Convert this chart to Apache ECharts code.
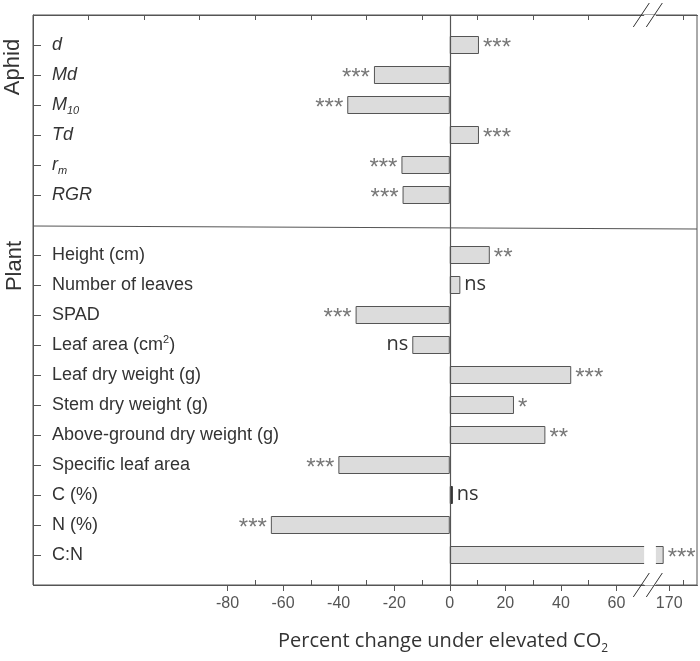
<!DOCTYPE html>
<html>
<head>
<meta charset="utf-8">
<script src="https://cdn.jsdelivr.net/npm/echarts@6/dist/echarts.min.js"></script>
<style>
  html, body { margin: 0; padding: 0; background: #fff; }
  #chart { width: 700px; height: 661px; }
</style>
</head>
<body>
<div id="chart"></div>
<script>
// rows from top to bottom; 'top', 'sep' and 'bottom' are empty slots
const rowKeys = ['top', 'd', 'Md', 'M10', 'Td', 'rm', 'RGR', 'sep',
  'Height (cm)', 'Number of leaves', 'SPAD', 'Leaf area (cm2)', 'Leaf dry weight (g)',
  'Stem dry weight (g)', 'Above-ground dry weight (g)', 'Specific leaf area',
  'C (%)', 'N (%)', 'C:N', 'bottom'];
const changeValues = ['-', 10.5, -27.3, -36.9, 10.5, -17.4, -17.0, '-',
  14.4, 3.8, -33.9, -13.5, 43.7, 23.1, 34.4, -40.1, 1.1, -64.4, 168, '-'];
const sigLabels = ['', '***', '***', '***', '***', '***', '***', '',
  '**', 'ns', '***', 'ns', '***', '*', '**', '***', 'ns', '***', '***', ''];
const groupNames = ['Aphid', 'Plant'];
const majorTicks = [-80, -60, -40, -20, 0, 20, 40, 60, 170];
const minorTicks = [-70, -50, -30, -10, 10, 30, 50, 175];
const topTicks = [-130, -110, -90, -70, -50, -30, -10, 10, 30, 50, 175];
const axisBreak = { start: 70, end: 165 };

const blankRows = ['top', 'sep', 'bottom'];
const rowText = {
  'd': '{i|d}',
  'Md': '{i|Md}',
  'M10': '{i|M}{isub|10}',
  'Td': '{i|Td}',
  'rm': '{i|r}{isub|m}',
  'RGR': '{i|RGR}',
  'Leaf area (cm2)': 'Leaf area (cm{sup|2})'
};

const chart = echarts.init(document.getElementById('chart'));

const breakCfg = {
  breaks: [{ start: axisBreak.start, end: axisBreak.end, gap: '1.66%' }],
  breakArea: {
    show: true,
    itemStyle: { color: '#fff', borderColor: '#fff', borderWidth: 0, opacity: 1 },
    zigzagAmplitude: 0,
    zigzagZ: 50,
    expandOnClick: false
  }
};

const baseX = {
  type: 'value',
  min: -150,
  max: 180,
  splitLine: { show: false },
  axisLine: { show: true, lineStyle: { color: '#555', width: 1 } }
};

const options = {
  animation: false,
  grid: {
    left: 33,
    right: 3,
    top: 15,
    bottom: 76,
    show: true,
    borderColor: '#555',
    borderWidth: 1
  },
  xAxis: [
    Object.assign({}, baseX, breakCfg, {
      position: 'bottom',
      axisTick: { show: true, inside: false, length: 6, customValues: majorTicks, lineStyle: { color: '#555' } },
      axisLabel: {
        customValues: majorTicks,
        margin: 11,
        color: '#555',
        fontFamily: 'Liberation Sans',
        fontSize: 16,
        formatter: v => String(v)
      }
    }),
    Object.assign({}, baseX, breakCfg, {
      position: 'bottom',
      axisLine: { show: false },
      axisTick: { show: true, inside: true, length: 5, customValues: minorTicks, lineStyle: { color: '#555' } },
      axisLabel: { show: false }
    }),
    Object.assign({}, baseX, breakCfg, {
      position: 'top',
      axisTick: { show: true, inside: true, length: 5, customValues: topTicks, lineStyle: { color: '#555' } },
      axisLabel: { show: false }
    })
  ],
  yAxis: {
    type: 'category',
    data: rowKeys,
    inverse: true,
    boundaryGap: false,
    axisLine: { show: true, onZero: false, lineStyle: { color: '#555' } },
    axisTick: {
      show: true,
      inside: true,
      length: 8,
      interval: (i, v) => blankRows.indexOf(v) < 0,
      lineStyle: { color: '#555' }
    },
    axisLabel: {
      inside: true,
      interval: 0,
      margin: 19,
      color: '#333',
      fontFamily: 'Liberation Sans',
      fontSize: 18,
      lineHeight: 22,
      formatter: v => blankRows.indexOf(v) >= 0 ? '' : (rowText[v] || v),
      rich: {
        i: { fontStyle: 'italic', fontSize: 18, lineHeight: 22, color: '#333', fontFamily: 'Liberation Sans' },
        isub: { fontStyle: 'italic', fontSize: 11, lineHeight: 11, verticalAlign: 'bottom', color: '#333', fontFamily: 'Liberation Sans' },
        sup: { fontSize: 11, lineHeight: 11, verticalAlign: 'top', color: '#333', fontFamily: 'Liberation Sans' }
      }
    }
  },
  series: [
    {
      type: 'bar',
      xAxisIndex: 0,
      barWidth: 18,
      itemStyle: { color: '#dcdcdc', borderColor: '#555', borderWidth: 1 },
      data: changeValues.map((v, i) => {
        if (v === '-') return '-';
        const sig = sigLabels[i];
        const item = {
          value: v,
          label: {
            position: v >= 0 ? 'right' : 'left',
            offset: sig === 'ns' ? [0, -1] : [0, 3]
          }
        };
        // a bar this thin shows only its outline
        if (Math.abs(v) < 2) item.itemStyle = { color: '#333', borderColor: '#333' };
        return item;
      }),
      label: {
        show: true,
        distance: 4,
        formatter: p => {
          const sig = sigLabels[p.dataIndex];
          return sig === 'ns' ? '{ns|ns}' : '{star|' + sig + '}';
        },
        rich: {
          star: { fontFamily: 'Liberation Sans', fontSize: 24, color: '#777' },
          ns: { fontFamily: 'Open Sans', fontSize: 20, color: '#333' }
        }
      },
      markLine: {
        silent: true,
        symbol: 'none',
        label: { show: false },
        lineStyle: { color: '#555', width: 1.2, type: 'solid' },
        data: [{ xAxis: 0 }]
      }
    }
  ],
  graphic: [
    {
      type: 'text',
      x: 13,
      y: 67,
      rotation: Math.PI / 2,
      style: {
        text: groupNames[0],
        textAlign: 'center',
        textVerticalAlign: 'middle',
        fontFamily: 'Liberation Sans',
        fontSize: 22,
        fill: '#333'
      }
    },
    {
      type: 'text',
      x: 15,
      y: 266,
      rotation: Math.PI / 2,
      style: {
        text: groupNames[1],
        textAlign: 'center',
        textVerticalAlign: 'middle',
        fontFamily: 'Liberation Sans',
        fontSize: 22,
        fill: '#333'
      }
    },
    {
      type: 'text',
      left: 278,
      top: 627,
      style: {
        text: 'Percent change under elevated CO{sub|2}',
        fontFamily: 'Open Sans',
        fontSize: 20,
        lineHeight: 28,
        fill: '#333',
        rich: {
          sub: { fontFamily: 'Open Sans', fontSize: 12, lineHeight: 12, verticalAlign: 'bottom', fill: '#333' }
        }
      }
    }
  ]
};

chart.setOption(options);

// Aphid / Plant separator and the "//" break marks
const gridLeft = 33, gridRight = 700 - 3;
const ySep = chart.convertToPixel({ yAxisIndex: 0 }, 'sep');
const xa = chart.convertToPixel({ xAxisIndex: 0 }, axisBreak.start);
const xb = chart.convertToPixel({ xAxisIndex: 0 }, axisBreak.end);
const yTop = 15, yBottom = 661 - 76;
const extra = [{
  type: 'line',
  shape: { x1: gridLeft, y1: ySep + 1, x2: gridRight, y2: ySep + 4 },
  style: { stroke: '#555', lineWidth: 1.2 },
  z: 200
}];
[xa - 3, xb - 1].forEach(cx => {
  [yTop, yBottom].forEach(cy => {
    extra.push({
      type: 'line',
      shape: { x1: cx - 8, y1: cy + 12, x2: cx + 8, y2: cy - 12 },
      style: { stroke: '#333', lineWidth: 1 },
      z: 200
    });
  });
});
chart.setOption({ graphic: options.graphic.concat(extra) });
</script>
</body>
</html>
